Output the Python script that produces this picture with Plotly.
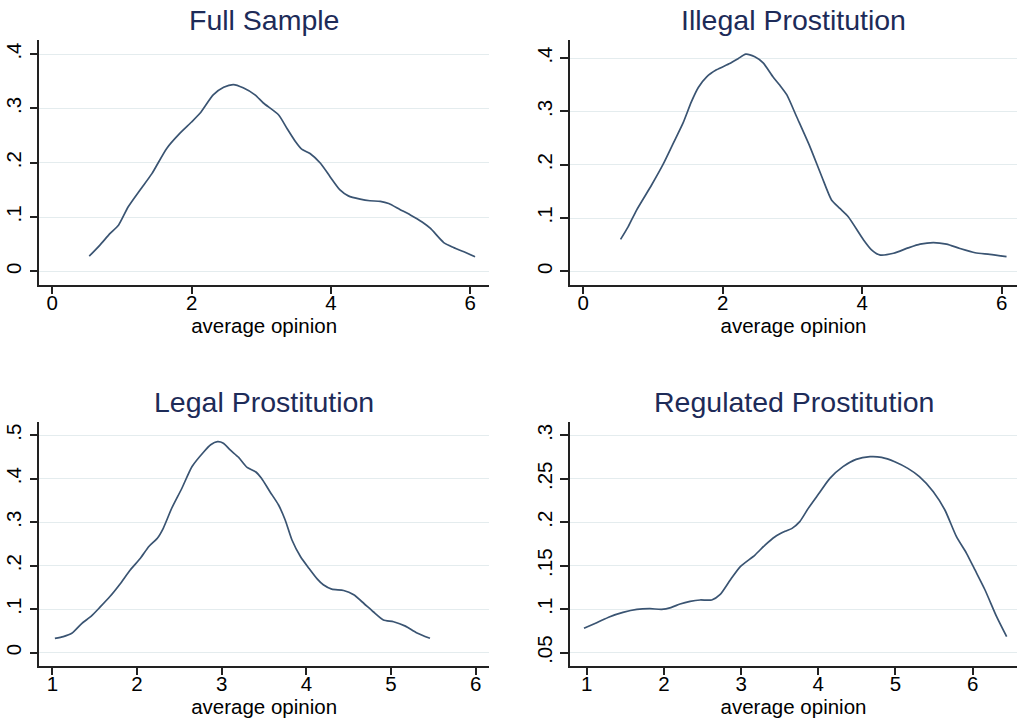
import plotly.graph_objects as go

# ---------------- data ----------------
full_x = [0.53, 0.68, 0.83, 0.95, 1.09, 1.26, 1.43, 1.64, 1.83, 2.00, 2.12, 2.31, 2.46, 2.60,
          2.74, 2.91, 3.03, 3.25, 3.37, 3.49, 3.58, 3.70, 3.85, 3.99, 4.13, 4.25, 4.42, 4.56,
          4.71, 4.83, 4.99, 5.14, 5.31, 5.43, 5.62, 5.76, 5.91, 6.07]
full_y = [0.028, 0.048, 0.070, 0.085, 0.119, 0.150, 0.180, 0.226, 0.254, 0.275, 0.291, 0.325,
          0.339, 0.344, 0.338, 0.325, 0.310, 0.288, 0.263, 0.239, 0.225, 0.217, 0.199, 0.174,
          0.150, 0.139, 0.133, 0.130, 0.129, 0.125, 0.114, 0.104, 0.091, 0.079, 0.053, 0.044,
          0.036, 0.027]

illegal_x = [0.535, 0.645, 0.765, 0.98, 1.15, 1.29, 1.43, 1.55, 1.65, 1.77, 1.91, 2.10, 2.22,
             2.33, 2.46, 2.58, 2.72, 2.82, 2.92, 3.06, 3.25, 3.42, 3.56, 3.68, 3.80, 4.02, 4.13,
             4.25, 4.45, 4.66, 4.83, 5.02, 5.21, 5.40, 5.62, 5.83, 6.07]
illegal_y = [0.060, 0.084, 0.115, 0.162, 0.202, 0.240, 0.278, 0.318, 0.345, 0.365, 0.378,
             0.390, 0.399, 0.4075, 0.4025, 0.391, 0.365, 0.349, 0.331, 0.290, 0.234, 0.178,
             0.134, 0.118, 0.1025, 0.059, 0.041, 0.031, 0.034, 0.044, 0.051, 0.054, 0.051,
             0.043, 0.035, 0.032, 0.0275]

legal_x = [1.03, 1.13, 1.23, 1.35, 1.46, 1.56, 1.68, 1.80, 1.92, 2.04, 2.14, 2.24, 2.31, 2.41,
           2.53, 2.65, 2.79, 2.87, 2.95, 3.02, 3.10, 3.20, 3.30, 3.40, 3.47, 3.57, 3.67, 3.75,
           3.83, 3.93, 4.03, 4.13, 4.20, 4.30, 4.44, 4.56, 4.68, 4.79, 4.91, 5.03, 5.17, 5.30,
           5.46]
legal_y = [0.033, 0.037, 0.0445, 0.0675, 0.084, 0.104, 0.129, 0.158, 0.190, 0.217, 0.244,
           0.263, 0.286, 0.332, 0.378, 0.428, 0.462, 0.478, 0.485, 0.4815, 0.466, 0.449, 0.426,
           0.416, 0.401, 0.370, 0.340, 0.305, 0.259, 0.221, 0.194, 0.169, 0.156, 0.146, 0.143,
           0.133, 0.113, 0.094, 0.075, 0.071, 0.061, 0.046, 0.033]

regulated_x = [0.965, 1.13, 1.30, 1.47, 1.65, 1.82, 1.97, 2.09, 2.21, 2.34, 2.47, 2.62, 2.73,
               2.86, 2.99, 3.18, 3.31, 3.44, 3.57, 3.66, 3.76, 3.87, 4.01, 4.15, 4.32, 4.49,
               4.67, 4.82, 4.99, 5.16, 5.31, 5.49, 5.64, 5.79, 5.92, 6.03, 6.16, 6.31, 6.44]
regulated_y = [0.078, 0.0845, 0.0914, 0.0964, 0.0998, 0.1006, 0.0998, 0.1018, 0.106, 0.109,
               0.1106, 0.1106, 0.117, 0.1336, 0.149, 0.1623, 0.1738, 0.1834, 0.1896, 0.193,
               0.2007, 0.216, 0.2333, 0.2505, 0.264, 0.2724, 0.2755, 0.2747, 0.2697, 0.262,
               0.2525, 0.2352, 0.2141, 0.1834, 0.1643, 0.1451, 0.1221, 0.0914, 0.0684]

titles = ["Full Sample", "Illegal Prostitution", "Legal Prostitution", "Regulated Prostitution"]
x_label = "average opinion"

x_ticks_top = [0, 2, 4, 6]
x_ticks_bottom = [1, 2, 3, 4, 5, 6]
y_ticks_a = [0, 0.1, 0.2, 0.3, 0.4]
y_text_a = ["0", ".1", ".2", ".3", ".4"]
y_ticks_c = [0, 0.1, 0.2, 0.3, 0.4, 0.5]
y_text_c = ["0", ".1", ".2", ".3", ".4", ".5"]
y_ticks_d = [0.05, 0.1, 0.15, 0.2, 0.25, 0.3]
y_text_d = [".05", ".1", ".15", ".2", ".25", ".3"]

# ---------------- layout helpers ----------------
W, H = 1017, 720
FONT = "Liberation Sans, Arial, sans-serif"
LINE_COLOR = "#3a5472"
TITLE_COLOR = "#1d2b58"
GRID_COLOR = "#e4ecee"


def dom_x(a, b):
    return [a / W, min(b / W, 1.0)]


def dom_y(top, bottom):
    return [1 - bottom / H, 1 - top / H]


panels = [
    dict(x=full_x, y=full_y, xd=(39.3, 489), yd=(40, 284.7), xr=[-0.187, 6.27],
         yr=[-0.0245, 0.426], xt=x_ticks_top, yt=y_ticks_a, ytt=y_text_a, ty=20),
    dict(x=illegal_x, y=illegal_y, xd=(570, 1017), yd=(40, 284.7), xr=[-0.19, 6.22],
         yr=[-0.025, 0.434], xt=x_ticks_top, yt=y_ticks_a, ytt=y_text_a, ty=20),
    dict(x=legal_x, y=legal_y, xd=(39.3, 489), yd=(421.7, 665.7), xr=[0.846, 6.157],
         yr=[-0.030, 0.531], xt=x_ticks_bottom, yt=y_ticks_c, ytt=y_text_c, ty=401.7),
    dict(x=regulated_x, y=regulated_y, xd=(570, 1017), yd=(421.7, 665.7), xr=[0.784, 6.574],
         yr=[0.035, 0.3157], xt=x_ticks_bottom, yt=y_ticks_d, ytt=y_text_d, ty=401.7),
]

fig = go.Figure()
layout = dict(
    width=W, height=H,
    margin=dict(l=0, r=0, t=0, b=0),
    paper_bgcolor="white", plot_bgcolor="white",
    showlegend=False,
    font=dict(family=FONT, color="black", size=20.5),
    annotations=[],
)

for i, p in enumerate(panels):
    n = "" if i == 0 else str(i + 1)
    fig.add_trace(go.Scatter(
        x=p["x"], y=p["y"], mode="lines",
        line=dict(color=LINE_COLOR, width=1.7, shape="spline", smoothing=0.6),
        xaxis="x" + n, yaxis="y" + n, hoverinfo="skip",
    ))
    layout["xaxis" + n] = dict(
        domain=dom_x(*p["xd"]), range=p["xr"], anchor="y" + n,
        tickvals=p["xt"], ticktext=[str(v) for v in p["xt"]],
        ticks="outside", ticklen=8, tickwidth=1.5, tickcolor="#222",
        ticklabelstandoff=-9,
        showline=True, linecolor="#222", linewidth=1.5,
        showgrid=False, zeroline=False,
        tickfont=dict(size=20.5, family=FONT, color="black"),
        title=dict(text=x_label, standoff=4, font=dict(size=20.5, family=FONT, color="black")),
    )
    layout["yaxis" + n] = dict(
        domain=dom_y(*p["yd"]), range=p["yr"], anchor="x" + n,
        tickvals=p["yt"], ticktext=p["ytt"], tickangle=-90,
        ticks="outside", ticklen=8, tickwidth=1.5, tickcolor="#222",
        showline=True, linecolor="#222", linewidth=1.5,
        showgrid=True, gridcolor=GRID_COLOR, gridwidth=1, zeroline=False,
        tickfont=dict(size=20.5, family=FONT, color="black"),
    )
    cx = (p["xd"][0] + min(p["xd"][1], W)) / 2
    layout["annotations"].append(dict(
        text=titles[i], x=cx / W, y=1 - p["ty"] / H, xref="paper", yref="paper",
        xanchor="center", yanchor="middle", showarrow=False,
        font=dict(size=28.5, family=FONT, color=TITLE_COLOR),
    ))

fig.update_layout(**layout)
fig.write_html("out.html")
